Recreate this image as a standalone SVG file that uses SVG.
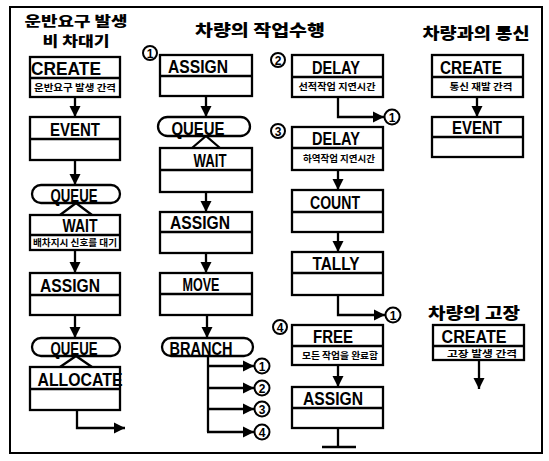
<svg xmlns="http://www.w3.org/2000/svg" width="549" height="461" viewBox="0 0 549 461">
<defs>
<marker id="ah" markerUnits="userSpaceOnUse" markerWidth="12" markerHeight="12" refX="11" refY="6" orient="auto">
<path d="M0,0.5 L11,6 L0,11.5 z" fill="#000"/>
</marker>
<style>
.box{fill:#fff;stroke:#000;stroke-width:2.3}
.ln{fill:none;stroke:#000;stroke-width:2.3}
.ar{fill:none;stroke:#000;stroke-width:2.3;marker-end:url(#ah)}
.hd{font-family:"Liberation Sans",Arial,sans-serif;font-weight:bold;font-size:19px;text-anchor:middle;fill:#000}
.sub{font-family:"Noto Sans CJK KR","Noto Sans",sans-serif;font-weight:bold;font-size:9px;text-anchor:middle;fill:#000}
.ttl{font-family:"Noto Sans CJK KR","Noto Sans",sans-serif;font-weight:900;font-size:16px;text-anchor:middle;fill:#000}
.num{font-family:"Liberation Sans",Arial,sans-serif;font-weight:bold;font-size:12px;text-anchor:middle;fill:#000}
.cir{fill:#fff;stroke:#000;stroke-width:2}
</style>
</defs>
<rect x="10" y="7" width="532" height="446" fill="none" stroke="#000" stroke-width="2"/>

<g id="titles">
<text class="ttl" style="font-size:13.5px" x="76" y="25.5" textLength="103" lengthAdjust="spacingAndGlyphs">운반요구 발생</text>
<text class="ttl" style="font-size:13.5px" x="76" y="45.5" textLength="67" lengthAdjust="spacingAndGlyphs">비 차대기</text>
<text class="ttl" x="260" y="36" textLength="130" lengthAdjust="spacingAndGlyphs">차량의 작업수행</text>
<text class="ttl" x="476" y="39" textLength="107" lengthAdjust="spacingAndGlyphs">차량과의 통신</text>
<text class="ttl" x="474" y="319" textLength="92" lengthAdjust="spacingAndGlyphs">차량의 고장</text>
</g>

<g id="connectors">
<line class="ar" x1="75" y1="97" x2="75" y2="117"/>
<line class="ar" x1="75" y1="160" x2="75" y2="185"/>
<path class="ln" d="M60,215 L76,203 L92,215"/>
<line class="ar" x1="75" y1="250" x2="75" y2="273"/>
<line class="ar" x1="75" y1="315" x2="75" y2="338"/>
<path class="ln" d="M60,367 L76,356 L92,367"/>
<path class="ar" d="M77,410 L77,428 L125,428"/>

<line class="ar" x1="206" y1="96" x2="206" y2="117"/>
<path class="ln" d="M192,148 L206,136 L220,148"/>
<line class="ar" x1="206" y1="192" x2="206" y2="212"/>
<line class="ar" x1="206" y1="253" x2="206" y2="273"/>
<line class="ar" x1="207" y1="315" x2="207" y2="338"/>
<line class="ln" x1="208" y1="356" x2="208" y2="432"/>
<line class="ar" x1="208" y1="366" x2="254" y2="366"/>
<line class="ar" x1="208" y1="388" x2="254" y2="388"/>
<line class="ar" x1="208" y1="409" x2="254" y2="409"/>
<line class="ar" x1="207" y1="432" x2="254" y2="432"/>

<path class="ar" d="M338,97 L338,117 L384,117"/>
<line class="ar" x1="338" y1="170" x2="338" y2="190"/>
<line class="ar" x1="338" y1="232" x2="338" y2="252"/>
<path class="ar" d="M338,295 L338,315 L385,315"/>
<line class="ar" x1="338" y1="365" x2="338" y2="387"/>
<line class="ln" x1="338" y1="428" x2="338" y2="447"/>
<line class="ln" x1="322" y1="447" x2="356" y2="447"/>

<line class="ar" x1="477" y1="97" x2="477" y2="117"/>
<line class="ar" x1="479" y1="360" x2="479" y2="389"/>
</g>

<g id="c1-create"><rect class="box" x="30" y="57" width="90" height="40"/><line class="ln" x1="30" y1="78" x2="120" y2="78"/><text class="hd" x="66" y="75" textLength="70" lengthAdjust="spacingAndGlyphs">CREATE</text><text class="sub" x="75" y="91" textLength="82" lengthAdjust="spacingAndGlyphs">운반요구 발생 간격</text></g>
<g id="c1-event"><rect class="box" x="30" y="117" width="90" height="43"/><line class="ln" x1="30" y1="139" x2="120" y2="139"/><text class="hd" x="75" y="136" textLength="50" lengthAdjust="spacingAndGlyphs">EVENT</text></g>
<g id="c1-queue"><rect class="box" x="32" y="185" width="88" height="18" rx="9"/><text class="hd" x="74" y="202" textLength="47" lengthAdjust="spacingAndGlyphs">QUEUE</text></g>
<g id="c1-wait"><rect class="box" x="30" y="215" width="90" height="35"/><line class="ln" x1="30" y1="235" x2="120" y2="235"/><text class="hd" x="80" y="232" textLength="35" lengthAdjust="spacingAndGlyphs">WAIT</text><text class="sub" x="75" y="246" textLength="84" lengthAdjust="spacingAndGlyphs">배차지시 신호를 대기</text></g>
<g id="c1-assign"><rect class="box" x="30" y="273" width="90" height="42"/><line class="ln" x1="30" y1="295" x2="120" y2="295"/><text class="hd" x="70" y="292" textLength="60" lengthAdjust="spacingAndGlyphs">ASSIGN</text></g>
<g id="c1-queue2"><rect class="box" x="32" y="338" width="88" height="18" rx="9"/><text class="hd" x="74" y="355" textLength="47" lengthAdjust="spacingAndGlyphs">QUEUE</text></g>
<g id="c1-allocate"><rect class="box" x="30" y="367" width="90" height="43"/><line class="ln" x1="30" y1="389" x2="120" y2="389"/><text class="hd" x="80" y="386" textLength="85" lengthAdjust="spacingAndGlyphs">ALLOCATE</text></g>

<g id="c2-assign"><rect class="box" x="160" y="55" width="92" height="41"/><line class="ln" x1="160" y1="76" x2="252" y2="76"/><text class="hd" x="198" y="73" textLength="60" lengthAdjust="spacingAndGlyphs">ASSIGN</text><circle class="cir" cx="150" cy="53" r="7"/><text class="num" x="150" y="57.5">1</text></g>
<g id="c2-queue"><rect class="box" x="158" y="117" width="92" height="19" rx="9.5"/><text class="hd" x="198" y="135" textLength="53" lengthAdjust="spacingAndGlyphs">QUEUE</text></g>
<g id="c2-wait"><rect class="box" x="160" y="148" width="92" height="44"/><line class="ln" x1="160" y1="170" x2="252" y2="170"/><text class="hd" x="210" y="167" textLength="33" lengthAdjust="spacingAndGlyphs">WAIT</text></g>
<g id="c2-assign2"><rect class="box" x="160" y="212" width="92" height="41"/><line class="ln" x1="160" y1="232" x2="252" y2="232"/><text class="hd" x="200" y="229" textLength="60" lengthAdjust="spacingAndGlyphs">ASSIGN</text></g>
<g id="c2-move"><rect class="box" x="160" y="273" width="92" height="42"/><line class="ln" x1="160" y1="294" x2="252" y2="294"/><text class="hd" x="201" y="291" textLength="37" lengthAdjust="spacingAndGlyphs">MOVE</text></g>
<g id="c2-branch"><rect class="box" x="162" y="338" width="91" height="18" rx="9"/><text class="hd" x="201" y="355" textLength="63" lengthAdjust="spacingAndGlyphs">BRANCH</text></g>
<g id="c2-targets">
<circle class="cir" cx="262" cy="366" r="7.5"/><text class="num" x="262" y="370.5">1</text>
<circle class="cir" cx="262" cy="388" r="7.5"/><text class="num" x="262" y="392.5">2</text>
<circle class="cir" cx="262" cy="409" r="7.5"/><text class="num" x="262" y="413.5">3</text>
<circle class="cir" cx="262" cy="432" r="7.5"/><text class="num" x="262" y="436.5">4</text>
</g>

<g id="c3-delay"><rect class="box" x="292" y="55" width="91" height="42"/><line class="ln" x1="292" y1="77" x2="383" y2="77"/><text class="hd" x="336" y="74" textLength="48" lengthAdjust="spacingAndGlyphs">DELAY</text><text class="sub" x="337" y="90" textLength="77" lengthAdjust="spacingAndGlyphs">선적작업 지연시간</text><circle class="cir" cx="278" cy="60" r="7"/><text class="num" x="278" y="64.5">2</text></g>
<g id="c3-target1"><circle class="cir" cx="392" cy="117" r="7.5"/><text class="num" x="392" y="121.5">1</text></g>
<g id="c3-delay2"><rect class="box" x="292" y="127" width="91" height="43"/><line class="ln" x1="292" y1="148" x2="383" y2="148"/><text class="hd" x="336" y="145" textLength="48" lengthAdjust="spacingAndGlyphs">DELAY</text><text class="sub" x="339" y="162" textLength="72" lengthAdjust="spacingAndGlyphs">하역작업 지연시간</text><circle class="cir" cx="278" cy="131" r="7"/><text class="num" x="278" y="135.5">3</text></g>
<g id="c3-count"><rect class="box" x="292" y="190" width="91" height="42"/><line class="ln" x1="292" y1="212" x2="383" y2="212"/><text class="hd" x="335" y="209" textLength="50" lengthAdjust="spacingAndGlyphs">COUNT</text></g>
<g id="c3-tally"><rect class="box" x="292" y="252" width="91" height="43"/><line class="ln" x1="292" y1="273" x2="383" y2="273"/><text class="hd" x="336" y="270" textLength="47" lengthAdjust="spacingAndGlyphs">TALLY</text></g>
<g id="c3-target2"><circle class="cir" cx="393" cy="315" r="7.5"/><text class="num" x="393" y="319.5">1</text></g>
<g id="c3-free"><rect class="box" x="292" y="325" width="91" height="40"/><line class="ln" x1="292" y1="346" x2="383" y2="346"/><text class="hd" x="333" y="343" textLength="40" lengthAdjust="spacingAndGlyphs">FREE</text><text class="sub" x="340" y="359" textLength="76" lengthAdjust="spacingAndGlyphs">모든 작업을 완료함</text><circle class="cir" cx="280" cy="327" r="7"/><text class="num" x="280" y="331.5">4</text></g>
<g id="c3-assign"><rect class="box" x="292" y="387" width="91" height="41"/><line class="ln" x1="292" y1="408" x2="383" y2="408"/><text class="hd" x="333" y="405" textLength="60" lengthAdjust="spacingAndGlyphs">ASSIGN</text></g>

<g id="c4-create"><rect class="box" x="432" y="55" width="91" height="42"/><line class="ln" x1="432" y1="77" x2="523" y2="77"/><text class="hd" x="471" y="74" textLength="62" lengthAdjust="spacingAndGlyphs">CREATE</text><text class="sub" x="481" y="90" textLength="63" lengthAdjust="spacingAndGlyphs">통신 재발 간격</text></g>
<g id="c4-event"><rect class="box" x="432" y="117" width="91" height="40"/><line class="ln" x1="432" y1="137" x2="523" y2="137"/><text class="hd" x="477" y="134" textLength="50" lengthAdjust="spacingAndGlyphs">EVENT</text></g>
<g id="c4-create2"><rect class="box" x="433" y="325" width="91" height="35"/><line class="ln" x1="433" y1="346" x2="524" y2="346"/><text class="hd" x="474" y="343" textLength="65" lengthAdjust="spacingAndGlyphs">CREATE</text><text class="sub" x="482" y="357" textLength="70" lengthAdjust="spacingAndGlyphs">고장 발생 간격</text></g>
</svg>
